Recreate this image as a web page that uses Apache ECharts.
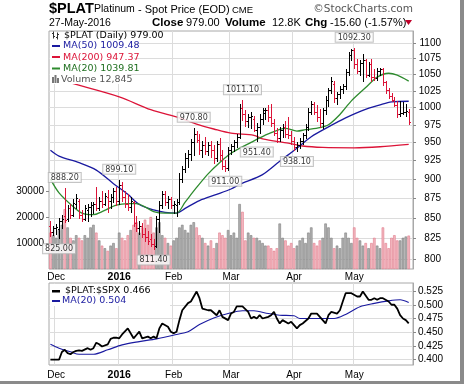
<!DOCTYPE html>
<html><head><meta charset="utf-8">
<script src="https://cdn.jsdelivr.net/npm/echarts@6/dist/echarts.min.js"></script>
<style>html,body{margin:0;padding:0;background:#fff}#c{width:464px;height:387px}</style>
</head><body><div id="c"></div>
<script>
// ---------- calendar (trading days) ----------
const startDate = '2015-11-27', endDate = '2016-05-27';
const holidays = ['2015-12-25','2016-01-01','2016-01-18','2016-02-15','2016-03-25'];
function tradingDays(s, e) {
  const out = []; let d = new Date(s + 'T00:00:00Z'); const end = new Date(e + 'T00:00:00Z');
  while (d <= end) { const w = d.getUTCDay(); const k = d.toISOString().slice(0, 10);
    if (w !== 0 && w !== 6 && holidays.indexOf(k) < 0) out.push(k); d = new Date(d.getTime() + 86400000); }
  return out;
}
const categories = tradingDays(startDate, endDate);

// ---------- price bars (OHLC) ----------
const opens = [840,833,837,836,846,852,848,862,854,868,872,853,849,860,864,866,868,862,871,868,876,872,876,884,872,892,876,868,864,870,844,838,840,830,826,824,818,816,848,866,880,870,874,866,866,870,900,914,928,934,950,962,954,940,946,938,946,940,928,948,932,918,915,940,945,950,958,1000,990,980,986,984,968,972,984,992,997,986,978,964,956,968,972,962,960,952,944,946,952,960,972,994,1006,994,986,978,996,1012,1026,1036,1014,1020,1028,1032,1054,1080,1088,1066,1056,1068,1072,1050,1066,1046,1044,1056,1058,1038,1026,1018,1012,1004,990,992,993,994];
const highs = [846,840,842,850,853,888.2,866,868,874,880,874,860,866,868,870,870,889,876,884,882,886,880,888,890,899.1,896,884,880,876,872,852,846,844,838,834,830,824,852,872,884,884,878,876,872,874,908,918,936,940,955,970.8,966,962,952,958,950,952,946,952,956,940,926,944,948,954,962,1006,1011.1,996,990,994,988,978,990,1000,1000,1004,1006,984,970,972,976,980,986,966,958,950,956,964,976,1000,1010,1008,1004,998,1000,1018,1030,1046,1040,1024,1032,1036,1058,1086,1090,1092.3,1074,1072,1082,1074,1070,1074,1058,1060,1060,1060,1040,1030,1022,1016,1010,1010,1008,1006,998];
const lows = [828,829,830,825,838,845,846,850,852,862,850,846,847,846,852,856,860,860,864,866,858,862,870,866,868,872,864,860,858,840,834,830,826,822,818,815,811.4,814,832,862,866,862,862,856,852,868,896,910,916,926,932,950,934,930,934,932,930,922,924,926,914,911,912,934,938,944,956,982,974,972,970,966,951.4,964,976,984,980,974,960,950,952,958,958,956,948,940,938.1,942,948,956,968,990,990,980,972,970,990,1002,1022,1008,1006,1014,1022,1028,1050,1072,1060,1052,1050,1040,1046,1048,1040,1042,1042,1050,1034,1022,1014,1010,1002,986,988,990,988,976];
const closes = [833,837,839,846,849,847,862,854,869,875,853,849,862,864,866,868,862,871,868,878,872,876,884,872,892,876,868,864,872,844,838,840,830,826,822,818,815,848,866,880,870,874,866,868,870,900,914,928,934,950,962,954,940,946,938,946,940,928,948,932,918,915,940,945,950,958,1000,990,980,986,988,968,972,984,996,997,986,978,964,956,968,972,962,960,952,944,946,952,960,972,994,1006,994,986,978,996,1012,1026,1040,1014,1020,1028,1032,1054,1080,1088,1066,1056,1068,1072,1050,1066,1046,1044,1056,1058,1038,1026,1018,1012,1004,990,992,993,994.6,979];

// ---------- volume ----------
const volumes = [14000,13000,12000,15000,17000,23000,16000,12000,11000,13000,12000,11000,13000,12000,16000,17000,14000,11000,9000,8000,7000,9000,10000,8000,14000,12000,11000,13000,15000,17000,18000,14000,16000,19000,17000,20000,14000,16000,18000,13000,12000,10000,9000,11000,12000,16000,17000,15000,14000,17000,18000,16000,13000,12000,10000,9000,11000,8000,10000,14000,13000,12000,15000,13000,14000,12000,25000,22000,11000,14000,13000,12000,12000,11000,10000,9000,9000,8000,7000,8000,17500,12000,11000,9000,10000,8000,9000,11000,12000,10000,14000,16000,10000,9000,11000,12000,17500,16000,12000,8000,9000,8000,12000,14000,12000,10000,16000,12000,11000,9000,10000,8000,10000,12000,9000,8000,16000,10000,8000,12000,13000,11000,11000,12000,12500,12845];

// ---------- moving averages: [day index, value] ----------
const ma200 = [[0,1046],[7,1037],[24,1016],[35,997],[45,985],[51,976],[57,969],[63,963],[71,960],[74,955],[83,949],[88,945],[95,943],[106,942.5],[115,944],[125,947.37]];
const ma50 = [[0,939],[3,931],[10,922],[16,912],[22,894],[27,880],[31,867],[36,860],[40,857],[44,856],[47,862],[52,872],[58,880],[63,887],[66,893],[74,906],[80,924],[86,942],[91,958],[97,972],[103,985],[109,996],[115,1004],[119,1008.5],[125,1009.48]];
const ma20 = [[0,900],[3,882],[8,864],[11,856],[15,854],[18,858],[23,866],[27,868],[30,868],[33,864],[36,858],[40,856],[44,856],[47,870],[51,889],[55,907],[59,922],[63,935],[70,950],[76,962],[82,970],[86,966],[89,968],[94,971],[97,975],[101,990],[105,1010],[110,1030],[114,1046],[118,1052],[121,1049],[125,1039.81]];

// ---------- $PLAT:$SPX ratio panel ----------
const ratio = [[0,0.400],[3,0.400],[4,0.414],[5,0.418],[6,0.412],[7,0.410],[8,0.414],[9,0.416],[10,0.417],[11,0.416],[13,0.421],[14,0.418],[15,0.421],[16,0.431],[17,0.428],[18,0.424],[20,0.428],[21,0.438],[22,0.440],[23,0.440],[24,0.439],[25,0.446],[27,0.457],[29,0.439],[30,0.445],[31,0.451],[32,0.439],[34,0.442],[35,0.439],[36,0.442],[37,0.439],[38,0.457],[39,0.466],[41,0.460],[42,0.451],[43,0.448],[44,0.451],[45,0.472],[46,0.490],[48,0.503],[49,0.506],[51,0.524],[52,0.512],[53,0.493],[55,0.490],[56,0.490],[58,0.481],[59,0.490],[60,0.478],[62,0.472],[63,0.484],[64,0.487],[65,0.497],[67,0.497],[69,0.487],[70,0.475],[71,0.478],[72,0.475],[73,0.481],[74,0.475],[76,0.478],[77,0.481],[78,0.487],[79,0.475],[80,0.466],[81,0.472],[83,0.466],[84,0.469],[85,0.463],[86,0.457],[87,0.463],[88,0.466],[90,0.475],[91,0.484],[93,0.484],[94,0.478],[96,0.466],[97,0.481],[98,0.487],[100,0.484],[101,0.490],[102,0.506],[103,0.521],[105,0.521],[107,0.515],[108,0.515],[109,0.524],[111,0.509],[112,0.509],[113,0.512],[114,0.509],[115,0.512],[116,0.512],[118,0.506],[119,0.500],[120,0.500],[121,0.493],[122,0.481],[123,0.475],[124,0.472],[125,0.466]];
const ratioMA20 = [[0,0.428],[3,0.421],[7,0.4145],[10,0.410],[15,0.410],[20,0.418],[25,0.427],[31,0.433],[37,0.438],[44,0.446],[48,0.451],[52,0.464],[57,0.476],[62,0.484],[67,0.489],[71,0.489],[76,0.484],[80,0.481],[85,0.480],[87,0.475],[94,0.475],[99,0.475],[103,0.4825],[108,0.4965],[113,0.5025],[118,0.507],[122,0.509],[125,0.504]];

// ---------- tick labels ----------
const priceTicks = [800,825,850,875,900,925,950,975,1000,1025,1050,1075,1100];
const volumeTicks = [10000,20000,30000];
const ratioTicks = [0.400,0.425,0.450,0.475,0.500,0.525];
const monthNames = ['Jan','Feb','Mar','Apr','May','Jun','Jul','Aug','Sep','Oct','Nov','Dec'];

// ---------- annotated highs / lows ----------
const annotIdx  = [3,5,24,36,50,61,67,72,86,106];
const annotSide = ['low','high','high','low','high','low','high','low','low','high'];

// ---------- colours ----------
const RED = '#dc1438', NAVY = '#1a1aa0', GREEN = '#2e8b2e', GRID = '#dcdcdc', BORDER = '#a8a8a8';

const up = closes.map((c, i) => i === 0 ? (c >= opens[0] ? 1 : 0) : (c >= closes[i - 1] ? 1 : 0));
const ohlcData = closes.map((c, i) => [i, opens[i], highs[i], lows[i], c, up[i]]);
const volData = volumes.map((v, i) => ({ value: v, itemStyle: up[i]
  ? { color: '#b0b0b0', borderColor: '#7e7e7e', borderWidth: 0.6 }
  : { color: '#f3b9c1', borderColor: '#e0788a', borderWidth: 0.6 } }));
const annotData = annotIdx.map((i, k) => {
  const hi = annotSide[k] === 'high'; const v = hi ? highs[i] : lows[i];
  return { value: [i, v], label: { position: hi ? 'top' : 'bottom', formatter: v.toFixed(2) } };
});

function isMonthStart(i) {
  if (i <= 0 || i >= categories.length) return false;
  return categories[i].slice(5, 7) !== categories[i - 1].slice(5, 7);
}
function monthLabel(v) {
  if (!v) return '';
  const m = +v.slice(5, 7);
  return m === 1 ? '{y|' + v.slice(0, 4) + '}' : monthNames[m - 1];
}
const AX_FONT = 'Liberation Sans';
function xAxisCfg(gi, margin) {
  return {
    type: 'category', gridIndex: gi, data: categories, max: categories.length, boundaryGap: true,
    axisLine: { show: false }, axisTick: { show: false },
    axisLabel: { interval: (i) => isMonthStart(i), formatter: monthLabel, margin: margin,
      fontFamily: AX_FONT, fontSize: 10, color: '#000', rich: { y: { fontWeight: 'bold', fontSize: 10.5, fontFamily: AX_FONT, color: '#000' } } },
    splitLine: { show: true, interval: (i) => isMonthStart(i), lineStyle: { color: GRID, width: 1 } }
  };
}

// ---------- graphics: header, legends, frame ----------
const G = [];
function txt(x, y, text, font, fill, align) {
  G.push({ type: 'text', x: x, y: y, z: 110, silent: true,
    style: { text: text, font: font, fill: fill || '#000', align: align || 'left', verticalAlign: 'middle' } });
}
function rect(x, y, w, h, fill, z) {
  G.push({ type: 'rect', z: z || 105, silent: true, shape: { x: x, y: y, width: w, height: h }, style: { fill: fill } });
}
function seg(pts) {
  G.push({ type: 'polyline', z: 110, silent: true, shape: { points: pts }, style: { stroke: '#333', lineWidth: 1 } });
}
// header line 1
txt(49, 9, '$PLAT', 'bold 14.5px Liberation Sans');
txt(94, 9.5, 'Platinum', '10.5px Liberation Sans');
txt(138, 9.5, '- Spot Price (EOD)', '11px Liberation Sans');
txt(232, 10, 'CME', '9.5px Liberation Sans');
txt(413, 9.5, '\u00A9StockCharts.com', '10.5px DejaVu Sans', '#555', 'right');
// header line 2
txt(49, 23, '27-May-2016', '10.5px Liberation Sans');
txt(152, 23, 'Close', 'bold 11.5px Liberation Sans');
txt(186, 23, '979.00', '11px Liberation Sans');
txt(225, 23, 'Volume', 'bold 11.5px Liberation Sans');
txt(272, 23, '12.8K', '11px Liberation Sans');
txt(305, 23, 'Chg', 'bold 11.5px Liberation Sans');
txt(330, 23, '-15.60 (-1.57%)', '11px Liberation Sans');
G.push({ type: 'polygon', z: 110, silent: true, shape: { points: [[405, 20], [412, 20], [408.5, 25]] }, style: { fill: '#c0002a' } });

// main panel legend (white box)
rect(50, 32, 84, 41, '#fff');
rect(50, 73, 77, 11, '#fff');
const LF = '9.5px DejaVu Sans';
seg([[53.5, 31.5], [53.5, 38.5]]); seg([[52, 33.5], [53.5, 33.5]]); seg([[53.5, 36.5], [55, 36.5]]);
seg([[57.5, 32.5], [57.5, 39.5]]); seg([[56, 37.5], [57.5, 37.5]]); seg([[57.5, 34.5], [59, 34.5]]);
txt(64, 35.5, '$PLAT (Daily) 979.00', LF, '#000');
rect(52, 45, 8, 2, NAVY, 110); txt(63, 46, 'MA(50) 1009.48', LF, NAVY);
rect(52, 56, 8, 2, RED, 110); txt(63, 57.5, 'MA(200) 947.37', LF, RED);
rect(52, 67.5, 8, 2, GREEN, 110); txt(63, 68.5, 'MA(20) 1039.81', LF, '#1f6f1f');
rect(52, 77, 2, 6, '#777', 110); rect(54.5, 75, 2, 8, '#777', 110); rect(57, 78, 2, 5, '#777', 110);
txt(61, 79.5, 'Volume 12,845', LF, '#555');

// ratio panel legend
rect(50, 284, 120, 22, '#fff');
rect(52, 290, 8, 2.5, '#000', 110); txt(65, 291, '$PLAT:$SPX 0.466', LF, '#000');
rect(52, 300, 8, 2, NAVY, 110); txt(62, 301, 'MA(20) 0.504', LF, NAVY);

// frame shadow
rect(460, 0, 4, 385, '#8a8a8a', 120);
rect(0, 381, 464, 3, '#8a8a8a', 120);
rect(0, 384, 464, 3, '#fff', 120);

const option = {
  animation: false,
  backgroundColor: '#fff',
  graphic: { elements: G },
  grid: [
    { left: 49, right: 51, top: 31, height: 238, show: true, borderColor: BORDER, borderWidth: 1, backgroundColor: '#fff' },
    { left: 49, right: 51, top: 283, height: 82, show: true, borderColor: BORDER, borderWidth: 1, backgroundColor: '#fff' }
  ],
  xAxis: [xAxisCfg(0, 3), xAxisCfg(1, 5)],
  yAxis: [
    { type: 'log', logBase: 10, gridIndex: 0, position: 'right', min: 788.3, max: 1119.6,
      axisLine: { show: true, lineStyle: { color: BORDER } },
      axisTick: { show: true, length: 3, customValues: priceTicks, lineStyle: { color: '#888' } },
      axisLabel: { customValues: priceTicks, align: 'right', margin: 28, fontFamily: AX_FONT, fontSize: 10, color: '#000', formatter: (v) => String(Math.round(v)) },
      splitLine: { show: true, lineStyle: { color: GRID } } },
    { type: 'value', gridIndex: 0, position: 'left', min: 0, max: 91538,
      axisLine: { show: false },
      axisTick: { show: true, length: 3, customValues: volumeTicks, lineStyle: { color: '#888' } },
      axisLabel: { customValues: volumeTicks, margin: 5, fontFamily: AX_FONT, fontSize: 10, color: '#000', formatter: (v) => String(v) },
      splitLine: { show: false } },
    { type: 'value', gridIndex: 1, position: 'right', min: 0.3904, max: 0.5396,
      axisLine: { show: true, lineStyle: { color: BORDER } },
      axisTick: { show: true, length: 3, customValues: ratioTicks, lineStyle: { color: '#888' } },
      axisLabel: { customValues: ratioTicks, margin: 5, fontFamily: AX_FONT, fontSize: 10, color: '#000', formatter: (v) => v.toFixed(3) },
      splitLine: { show: true, lineStyle: { color: GRID } } }
  ],
  series: [
    { type: 'bar', name: 'Volume', xAxisIndex: 0, yAxisIndex: 1, data: volData, barCategoryGap: '12%', z: 1, silent: true },
    { type: 'line', name: 'MA200', xAxisIndex: 0, yAxisIndex: 0, data: ma200, smooth: 0.3, showSymbol: false, symbol: 'none', lineStyle: { color: RED, width: 1.3 }, z: 3 },
    { type: 'line', name: 'MA50', xAxisIndex: 0, yAxisIndex: 0, data: ma50, smooth: 0.3, showSymbol: false, symbol: 'none', lineStyle: { color: NAVY, width: 1.3 }, z: 3 },
    { type: 'line', name: 'MA20', xAxisIndex: 0, yAxisIndex: 0, data: ma20, smooth: 0.3, showSymbol: false, symbol: 'none', lineStyle: { color: GREEN, width: 1.3 }, z: 3 },
    { type: 'custom', name: 'PLAT', xAxisIndex: 0, yAxisIndex: 0, data: ohlcData, z: 4,
      encode: { x: 0, y: [1, 2, 3, 4] },
      renderItem: function (params, api) {
        const i = api.value(0);
        const o = api.coord([i, api.value(1)]), h = api.coord([i, api.value(2)]);
        const l = api.coord([i, api.value(3)]), c = api.coord([i, api.value(4)]);
        const x = Math.round(h[0]) + 0.5;
        const st = { stroke: api.value(5) ? '#000' : RED, lineWidth: 1 };
        const oy = Math.round(o[1]) + 0.5, cy = Math.round(c[1]) + 0.5;
        return { type: 'group', children: [
          { type: 'line', shape: { x1: x, y1: Math.round(h[1]), x2: x, y2: Math.round(l[1]) + 1 }, style: st },
          { type: 'line', shape: { x1: x - 1.5, y1: oy, x2: x, y2: oy }, style: st },
          { type: 'line', shape: { x1: x, y1: cy, x2: x + 1.5, y2: cy }, style: st }
        ] };
      } },
    { type: 'scatter', name: 'marks', xAxisIndex: 0, yAxisIndex: 0, data: annotData, symbolSize: 0, z: 6, silent: true,
      label: { show: true, distance: 6, fontFamily: 'DejaVu Sans', fontSize: 8, color: '#000', backgroundColor: '#fff',
        borderColor: '#b5b5b5', borderWidth: 1, padding: [1, 2, 0, 2] } },
    { type: 'line', name: 'ratio', xAxisIndex: 1, yAxisIndex: 2, data: ratio, showSymbol: false, symbol: 'none', lineStyle: { color: '#000', width: 1.8 }, z: 4 },
    { type: 'line', name: 'ratioMA', xAxisIndex: 1, yAxisIndex: 2, data: ratioMA20, smooth: 0.3, showSymbol: false, symbol: 'none', lineStyle: { color: NAVY, width: 1.1 }, z: 3 }
  ]
};
const chart = echarts.init(document.getElementById('c'), null, { renderer: 'canvas' });
chart.setOption(option);
</script></body></html>
